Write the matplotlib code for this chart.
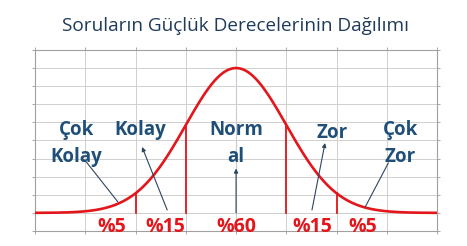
"""Normal-curve sketch: distribution of question difficulty levels."""
import numpy as np
import matplotlib.pyplot as plt

# sigma boundaries of the shaded bands and the share in each band
BOUNDS = [-2, -1, 1, 2]
PCT_LABELS = ["%5", "%15", "%60", "%15", "%5"]
PCT_X = [-2.47, -1.41, 0.0, 1.51, 2.53]

# category labels (line text, x, y) and their pointer lines (from, to, head)
LABELS = [
    ("Çok", -3.17, 5.58), ("Kolay", -3.17, 4.09),
    ("Kolay", -1.91, 5.58),
    ("Norm", 0.0, 5.58), ("al", 0.0, 4.09),
    ("Zor", 1.91, 5.41),
    ("Çok", 3.27, 5.58), ("Zor", 3.27, 4.09),
]
POINTERS = [
    ((-2.35, 1.60), (-3.01, 3.92), False),
    ((-1.37, 1.16), (-1.87, 4.64), True),
    ((0.0, 1.00), (0.0, 3.45), True),
    ((1.51, 1.16), (1.77, 4.86), True),
    ((2.57, 1.33), (3.03, 3.76), False),
]

BASE, PEAK = 1.0, 8.0
RED = "#e3161c"
NAVY = "#1f4e79"
FONT = ["Open Sans", "DejaVu Sans"]


def curve(x):
    return BASE + PEAK * np.exp(-np.asarray(x) ** 2 / 2)


def main():
    fig = plt.figure(figsize=(4.67, 2.46), dpi=100)
    ax = fig.add_axes([0.075, 0.061, 0.861, 0.736])

    xs = np.linspace(-4, 4, 400)
    ax.plot(xs, curve(xs), color=RED, linewidth=1.9, zorder=4)
    for b in BOUNDS:
        ax.plot([b, b], [BASE, curve(b)], color=RED, linewidth=1.3, zorder=3)

    for (x0, y0), (x1, y1), head in POINTERS:
        ax.annotate(
            "", xy=(x1, y1), xytext=(x0, y0),
            arrowprops=dict(arrowstyle="-|>" if head else "-", color="#2d4660",
                            linewidth=0.8, mutation_scale=6, shrinkA=0, shrinkB=0),
            zorder=5,
        )

    for text, x, y in LABELS:
        ax.text(x, y, text, ha="center", va="center", fontsize=13.5,
                fontweight="bold", color=NAVY, family=FONT, zorder=6)
    for text, x in zip(PCT_LABELS, PCT_X):
        ax.text(x, 0.22, text, ha="center", va="center", fontsize=14,
                fontweight="bold", color=RED, family=FONT, zorder=6)

    ax.set_xlim(-4, 4)
    ax.set_ylim(0, 10)
    ax.set_xticks(np.arange(-4, 5, 1))
    ax.set_yticks(np.arange(0, 11, 1))
    ax.grid(True, color="#cfcfcf", linewidth=0.7, zorder=0)
    ax.axvline(0, color="#9a9a9a", linewidth=0.8, zorder=1)
    ax.tick_params(direction="out", length=2, width=0.6, colors="#9a9a9a",
                   labelbottom=False, labelleft=False, top=True, right=True)
    for sp in ax.spines.values():
        sp.set_color("#a0a0a0")
        sp.set_linewidth(0.8)

    fig.text(0.505, 0.895, "Soruların Güçlük Derecelerinin Dağılımı",
             ha="center", va="center", fontsize=13.7, color="#1f3b5a", family=FONT)

    fig.savefig("out.png", dpi=100, facecolor="white")
    plt.close(fig)


if __name__ == "__main__":
    main()
